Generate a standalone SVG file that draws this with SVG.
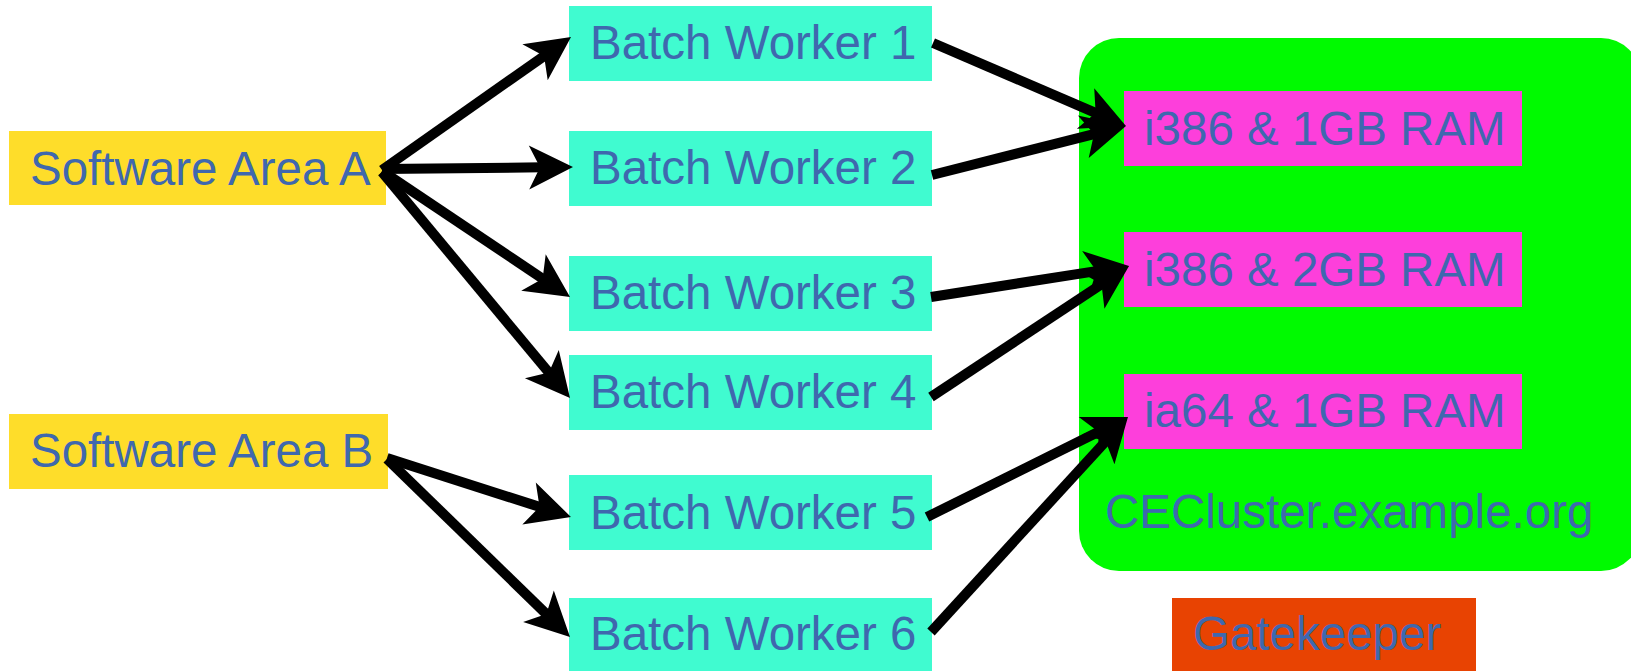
<svg xmlns="http://www.w3.org/2000/svg" width="1631" height="671" viewBox="0 0 1631 671">
<style>
text{font-family:"Liberation Sans",Arial,sans-serif;font-size:47.5px;fill:#3f68ae}
.sw{fill:#fedd2a}.bw{fill:#40fbd0}.arch{fill:#fd3fdb}.gk{fill:#e84302}.cl{fill:#00fa00}
.c line{stroke:#000;stroke-width:10;marker-end:url(#ah)}
</style>
<defs>
<marker id="ah" markerUnits="userSpaceOnUse" markerWidth="60" markerHeight="60" refX="0" refY="0" orient="auto" overflow="visible">
<path d="M30,0 L-14,-22 L-3,0 L-14,22 Z" fill="#000"/>
</marker>
</defs>
<rect width="1631" height="671" fill="#fff"/>
<g id="cluster">
<rect class="cl" x="1079" y="38" width="562" height="533" rx="40"/>
<text x="1105" y="528">CECluster.example.org</text>
</g>
<g id="swA"><rect class="sw" x="9" y="131" width="377" height="74"/><text x="30" y="185">Software Area A</text></g>
<g id="swB"><rect class="sw" x="9" y="414" width="379" height="75"/><text x="30" y="467">Software Area B</text></g>
<g id="bw1"><rect class="bw" x="569" y="6" width="363" height="75"/><text x="590" y="59">Batch Worker 1</text></g>
<g id="bw2"><rect class="bw" x="569" y="131" width="363" height="75"/><text x="590" y="184">Batch Worker 2</text></g>
<g id="bw3"><rect class="bw" x="569" y="256" width="363" height="75"/><text x="590" y="309">Batch Worker 3</text></g>
<g id="bw4"><rect class="bw" x="569" y="355" width="363" height="75"/><text x="590" y="408">Batch Worker 4</text></g>
<g id="bw5"><rect class="bw" x="569" y="475" width="363" height="75"/><text x="590" y="529">Batch Worker 5</text></g>
<g id="bw6"><rect class="bw" x="569" y="598" width="363" height="73"/><text x="590" y="650">Batch Worker 6</text></g>
<g id="r1"><rect class="arch" x="1124" y="91" width="398" height="75"/><text x="1144" y="145">i386 &amp; 1GB RAM</text></g>
<g id="r2"><rect class="arch" x="1124" y="232" width="398" height="75"/><text x="1144" y="286">i386 &amp; 2GB RAM</text></g>
<g id="r3"><rect class="arch" x="1124" y="374" width="398" height="75"/><text x="1144" y="427">ia64 &amp; 1GB RAM</text></g>
<g id="gatekeeper"><rect class="gk" x="1172" y="598" width="304" height="73"/><text x="1193" y="650">Gatekeeper</text></g>
<g id="connectors" class="c">
<line x1="382" y1="170" x2="546.5" y2="54.3"/>
<line x1="382" y1="169" x2="543" y2="167.3"/>
<line x1="382" y1="171" x2="545.1" y2="280.3"/>
<line x1="382" y1="172" x2="550.8" y2="374.9"/>
<line x1="387" y1="458" x2="542.4" y2="507.8"/>
<line x1="387" y1="459" x2="548.5" y2="616.1"/>
<line x1="933" y1="43" x2="1098.4" y2="114.1"/>
<line x1="932" y1="175" x2="1096.9" y2="133.3"/>
<line x1="931" y1="297" x2="1099.4" y2="270.6"/>
<line x1="931" y1="397" x2="1104" y2="282.6"/>
<line x1="927" y1="517" x2="1101.1" y2="430.4"/>
<line x1="931" y1="632" x2="1107.7" y2="439.1"/>
</g>
</svg>
